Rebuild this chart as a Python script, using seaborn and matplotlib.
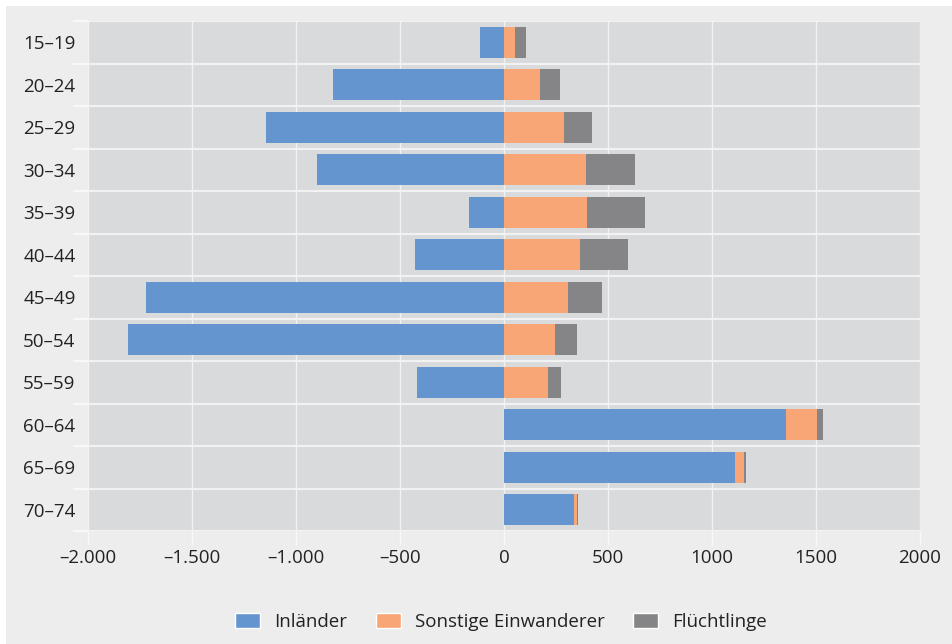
import numpy as np
import pandas as pd
import matplotlib
matplotlib.use("Agg")
import matplotlib.pyplot as plt
from matplotlib.patches import Rectangle, Patch
from matplotlib.ticker import FixedLocator
import seaborn as sns

ages = ["15–19", "20–24", "25–29", "30–34", "35–39", "40–44",
        "45–49", "50–54", "55–59", "60–64", "65–69", "70–74"]
inlaender = [-115, -822, -1144, -899, -168, -428, -1721, -1808, -418, 1356, 1111, 337]
sonstige = [53, 173, 288, 394, 399, 365, 308, 245, 212, 149, 43, 14]
fluechtlinge = [53, 96, 135, 236, 279, 231, 163, 106, 62, 29, 10, 5]

xticks = [-2000, -1500, -1000, -500, 0, 500, 1000, 1500, 2000]
xticklabels = ["–2.000", "–1.500", "–1.000", "–500", "0", "500", "1000", "1500", "2000"]

c_inl = "#6495cf"
c_son = "#f9a677"
c_flu = "#858588"

sns.set_theme(style="darkgrid")
plt.rcParams["font.family"] = ["Open Sans", "DejaVu Sans"]

inl = np.array(inlaender, dtype=float)
son = np.array(sonstige, dtype=float)
flu = np.array(fluechtlinge, dtype=float)
base = np.where(inl > 0, inl, 0)
df = pd.DataFrame({
    "age": ages,
    "inl": inl,
    "son_end": base + son,
    "flu_end": base + son + flu,
})

fig = plt.figure(figsize=(9.52, 6.44), dpi=100)
fig.patch.set_facecolor("white")
fig.patches.append(Rectangle((6 / 952, 0), 1, 638 / 644, transform=fig.transFigure,
                             facecolor="#ededed", edgecolor="none", zorder=-10))
ax = fig.add_axes([88 / 952, 1 - 531 / 644, (920 - 88) / 952, (531 - 21) / 644])
ax.set_facecolor("#d9dadc")

bw = 0.73
sns.barplot(data=df, x="flu_end", y="age", orient="h", color=c_flu, width=bw,
            saturation=1, ax=ax, zorder=2)
sns.barplot(data=df, x="son_end", y="age", orient="h", color=c_son, width=bw,
            saturation=1, ax=ax, zorder=3)
sns.barplot(data=df, x="inl", y="age", orient="h", color=c_inl, width=bw,
            saturation=1, ax=ax, zorder=4)
for p in ax.patches:
    p.set_edgecolor("none")

ax.set_xlim(-2000, 2000)
ax.set_ylim(len(ages) - 0.5, -0.5)
ax.set_xticks(xticks)
ax.set_xticklabels(xticklabels)
ax.yaxis.set_minor_locator(FixedLocator(np.arange(-0.5, len(ages), 1.0)))
ax.grid(False)
ax.grid(axis="x", which="major", color="#f2f2f2", linewidth=1.0, zorder=1)
ax.grid(axis="y", which="minor", color="#f2f2f2", linewidth=1.5, zorder=1)
ax.set_axisbelow(True)
fs = 13.5
ax.tick_params(axis="y", which="major", length=0, pad=9, labelsize=fs, labelcolor="#222222")
ax.tick_params(axis="y", which="minor", length=11, width=1.5, color="#f8f8f8", left=True)
ax.tick_params(axis="x", which="major", length=10, width=1.0, color="#f8f8f8", bottom=True,
               pad=3, labelsize=fs, labelcolor="#222222")
ax.set_xlabel("")
ax.set_ylabel("")
for s in ax.spines.values():
    s.set_visible(False)

handles = [Patch(facecolor=c_inl, label="Inländer"),
           Patch(facecolor=c_son, label="Sonstige Einwanderer"),
           Patch(facecolor=c_flu, label="Flüchtlinge")]
fig.legend(handles=handles, loc="center", bbox_to_anchor=(501 / 952, 1 - 622 / 644),
           ncol=3, frameon=False, fontsize=fs, handlelength=1.35, handleheight=0.8,
           columnspacing=1.5, handletextpad=0.75, labelcolor="#222222")

fig.savefig("out.png", dpi=100, facecolor=fig.get_facecolor())
